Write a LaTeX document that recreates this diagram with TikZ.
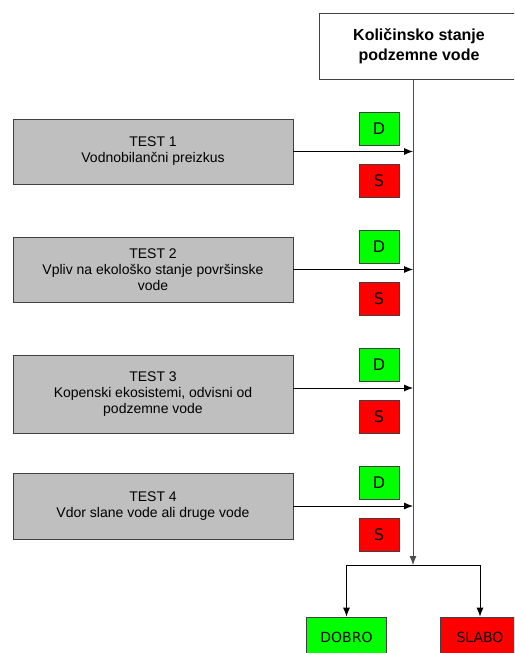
\documentclass[tikz,border=0pt]{standalone}
\usepackage{fontspec}
\setmainfont{Liberation Sans}
\newfontfamily\dsfont{DejaVu Sans}
\usetikzlibrary{arrows.meta}

\begin{document}
\begin{tikzpicture}[x=1pt, y=-1pt,
		testbox/.style={draw=black!75, fill=black!25, line width=0.8pt, minimum width=280pt, align=center, font=\fontsize{14}{16}\selectfont},
		dbox/.style={draw=black!75, fill=green, line width=0.8pt, minimum width=40pt, minimum height=33pt, font=\dsfont\fontsize{16}{16}\selectfont},
		sbox/.style={dbox, fill=red},
		endbox/.style={dbox, minimum width=80pt, minimum height=40pt, font=\dsfont\fontsize{14}{14}\selectfont},
		arr/.style={-{Latex[length=9pt,width=7pt]}, line width=0.8pt}]
				\useasboundingbox (0,0) rectangle (514,653);
				\clip (0,0) rectangle (514,653);
				\node (K) [draw=black!75, line width=0.8pt, minimum width=200pt, minimum height=66pt, align=center, font=\bfseries\fontsize{16}{20}\selectfont] at (419,46) {Količinsko stanje\\podzemne vode};
				\coordinate (j) at (413,565);
				%
				\node (t1) [testbox, minimum height=65pt] at (153,151.5) {TEST 1\\Vodnobilančni preizkus};
				\node (d1) [dbox] at (379,128.5) {D};
				\node (s1) [sbox] at (379,181) {S};
				%
				\node (t2) [testbox, minimum height=65pt] at (153,269.5) {TEST 2\\Vpliv na ekološko stanje površinske\\vode};
				\node (d2) [dbox] at (379,246.5) {D};
				\node (s2) [sbox] at (379,299) {S};
				%
				\node (t3) [testbox, minimum height=78pt] at (153,394) {TEST 3\\Kopenski ekosistemi, odvisni od\\podzemne vode};
				\node (d3) [dbox] at (379,364.5) {D};
				\node (s3) [sbox] at (379,417) {S};
				%
				\node (t4) [testbox, minimum height=66pt] at (153,506) {TEST 4\\Vdor slane vode ali druge vode};
				\node (d4) [dbox] at (379,482.5) {D};
				\node (s4) [sbox] at (379,535) {S};
				%
				\node (dobro) [endbox] at (346.5,637) {DOBRO};
				\node (slabo) [endbox, fill=red] at (480,637) {SLABO};
				%
				\draw[arr] (t1.east) -- (t1.east -| j);
				\draw[arr] (t2.east) -- (t2.east -| j);
				\draw[arr] ([yshift=6pt]t3.east) -- ([yshift=6pt]t3.east -| j);
				\draw[arr] (t4.east) -- (t4.east -| j);
				\draw[arr, draw=black!70] (K.south -| j) -- (j);
				\draw[arr] (j) -| (dobro);
				\draw[arr] (j) -| (slabo);
			\end{tikzpicture}
\end{document}
